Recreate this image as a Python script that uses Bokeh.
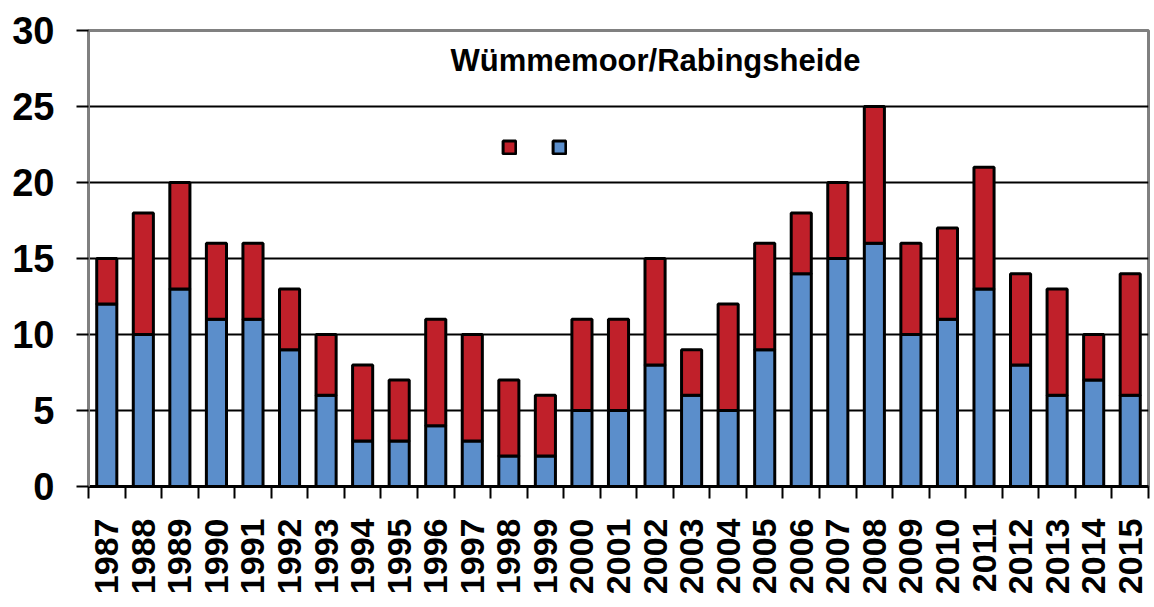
from math import pi
from bokeh.plotting import figure
from bokeh.models import Range1d, FixedTicker, Label, Legend, LegendItem, ColumnDataSource
from bokeh.embed import file_html
from bokeh.resources import INLINE

# ---- data ----
years = list(range(1987, 2016))
lower = [12, 10, 13, 11, 11, 9, 6, 3, 3, 4, 3, 2, 2, 5, 5, 8, 6, 5, 9, 14, 15, 16, 10, 11, 13, 8, 6, 7, 6]
upper = [3, 8, 7, 5, 5, 4, 4, 5, 4, 7, 7, 5, 4, 6, 6, 7, 3, 7, 7, 4, 5, 9, 6, 6, 8, 6, 7, 3, 8]
y_ticks = [0, 5, 10, 15, 20, 25, 30]
title_text = "Wümmemoor/Rabingsheide"

BLUE = "#5b8ecb"
RED = "#c0202a"
FONT = "Liberation Sans"

src = ColumnDataSource(dict(year=years, lower=lower, upper=upper))

p = figure(width=1150, height=604, output_backend="svg", toolbar_location=None,
           x_range=Range1d(years[0] - 0.5, years[-1] + 0.5), y_range=Range1d(0, 30),
           min_border_left=88, min_border_right=2, min_border_top=30, min_border_bottom=118)
p.background_fill_color = "white"
p.border_fill_color = "white"
p.outline_line_color = "#808080"
p.outline_line_width = 3

rs = p.vbar_stack(["lower", "upper"], x="year", width=0.55, source=src,
                  fill_color=[BLUE, RED], line_color="black", line_width=3)

# grid
p.xgrid.visible = False
p.ygrid.ticker = FixedTicker(ticks=y_ticks[1:-1])
p.ygrid.grid_line_color = "black"
p.ygrid.grid_line_width = 2

# y axis
yax = p.yaxis[0]
yax.ticker = FixedTicker(ticks=y_ticks)
yax.axis_line_color = "#808080"
yax.axis_line_width = 3
yax.major_tick_out = 12
yax.major_tick_in = 0
yax.major_tick_line_color = "black"
yax.major_tick_line_width = 2
yax.minor_tick_line_color = None
yax.major_label_standoff = 22
yax.major_label_text_font = FONT
yax.major_label_text_font_style = "bold"
yax.major_label_text_font_size = "38px"
yax.major_label_text_color = "black"

# x axis
boundaries = [y - 0.5 for y in years] + [years[-1] + 0.5]
xax = p.xaxis[0]
xax.ticker = FixedTicker(ticks=years, minor_ticks=boundaries)
xax.axis_line_color = "black"
xax.axis_line_width = 3
xax.major_tick_out = 0
xax.major_tick_in = 0
xax.major_tick_line_color = None
xax.minor_tick_out = 12
xax.minor_tick_in = 0
xax.minor_tick_line_color = "black"
xax.minor_tick_line_width = 2
xax.major_label_orientation = pi / 2
xax.major_label_standoff = 20
xax.major_label_text_font = FONT
xax.major_label_text_font_style = "bold"
xax.major_label_text_font_size = "34px"
xax.major_label_text_color = "black"

# title inside the plot
p.add_layout(Label(x=567, y=426, x_units="screen", y_units="screen", text=title_text,
                   text_font=FONT, text_font_style="bold", text_font_size="31px",
                   text_align="center", text_baseline="middle", text_color="black"))

# legend with unlabeled squares (red first, blue second)
legend = Legend(items=[LegendItem(label=" ", renderers=[rs[1]]),
                       LegendItem(label=" ", renderers=[rs[0]])],
                location=(413, 331), orientation="horizontal",
                border_line_alpha=0, background_fill_alpha=0, padding=0, margin=0,
                glyph_width=16, glyph_height=16, label_standoff=0, label_width=0,
                label_height=16, spacing=34, label_text_font_size="1px")
p.add_layout(legend)

open("out.html", "w").write(file_html(p, INLINE))
